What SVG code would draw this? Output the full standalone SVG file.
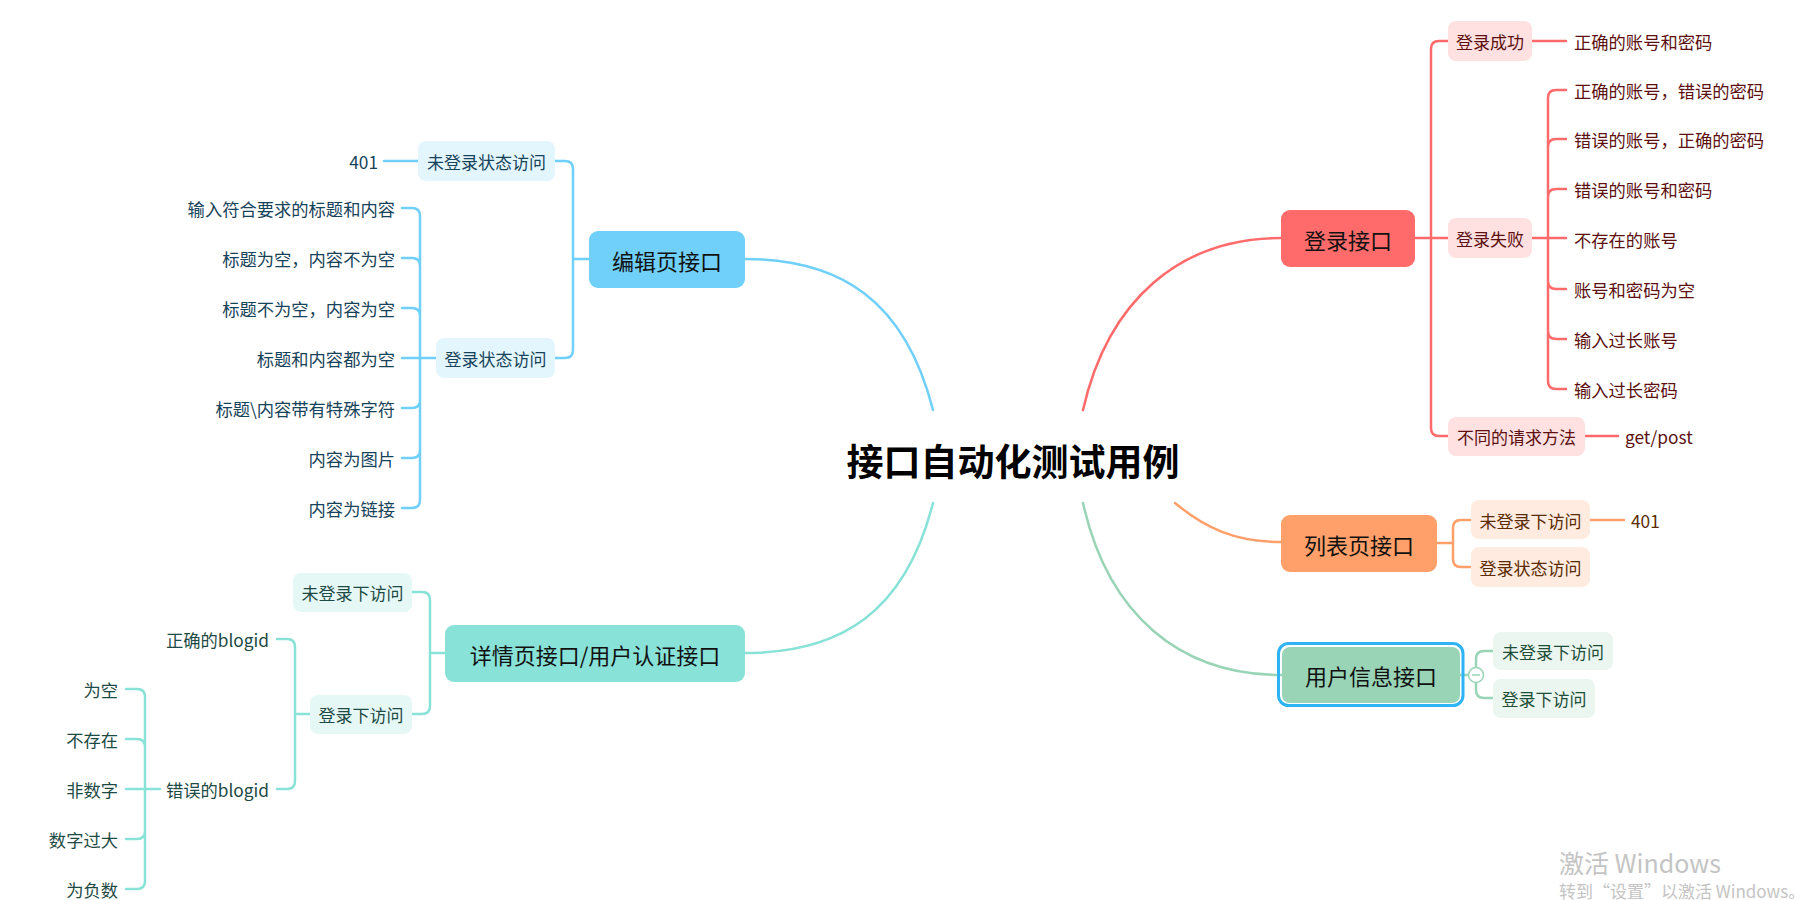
<svg xmlns="http://www.w3.org/2000/svg" width="1816" height="900" viewBox="0 0 1816 900">
<style>
text{font-family:"Noto Sans CJK SC","Noto Sans",sans-serif;dominant-baseline:central}
.main{font-size:22px;fill:#111;text-anchor:middle}
.sub{font-size:17px;text-anchor:middle}
.leaf{font-size:17.3px}
.end{text-anchor:end}
.c{fill:none;stroke-width:2.5;stroke-linecap:round}
.red{stroke:#FF6B6B}.org{stroke:#FF9F69}.grn{stroke:#99D4B7}.blu{stroke:#70D0F9}.teal{stroke:#88E2D7}
.tr{fill:#5C1010}.to{fill:#5A2A00}.tg{fill:#1E4D38}.tb{fill:#17435A}.tt{fill:#1D4A44}
</style>
<rect width="1816" height="900" fill="#fff"/>
<g id="connectors">
<path class="c blu" d="M933,410 C905,300 840,259 745,259"/>
<path class="c teal" d="M933,503 C905,613 840,653 745,653"/>
<path class="c red" d="M1083,410 C1108,300 1180,238 1281,238"/>
<path class="c org" d="M1175,503 C1205,528 1235,542 1281,542"/>
<path class="c grn" d="M1083,503 C1108,615 1180,675 1281,675"/>
<path class="c red" d="M1415,238 H1448 M1448,41 H1439 Q1431,41 1431,49 V428 Q1431,436 1439,436 H1448"/>
<path class="c red" d="M1532,41 H1566 M1532,238 H1566 M1585,436 H1618"/>
<path class="c red" d="M1548,238 V98 Q1548,90 1556,90 H1566 M1548,147 Q1548,139 1556,139 H1566 M1548,197 Q1548,189 1556,189 H1566 M1548,238 V381 Q1548,389 1556,389 H1566 M1548,281 Q1548,289 1556,289 H1566 M1548,331 Q1548,339 1556,339 H1566"/>
<path class="c org" d="M1437,543 H1453 M1453,543 V528 Q1453,520 1461,520 H1471 M1453,543 V559 Q1453,567 1461,567 H1471 M1590,520 H1624"/>
<path class="c grn" d="M1460,675 H1469 M1476,667 V659 Q1476,651 1484,651 H1493 M1476,683 V690 Q1476,698 1484,698 H1493"/>
<path class="c blu" d="M589,259 H573 M573,259 V169 Q573,161 565,161 H555 M573,259 V350 Q573,358 565,358 H555 M418,161 H384 M436,358 H402"/>
<path class="c blu" d="M420,358 V216 Q420,208 412,208 H402 M420,266 Q420,258 412,258 H402 M420,316 Q420,308 412,308 H402 M420,358 V500 Q420,508 412,508 H402 M420,400 Q420,408 412,408 H402 M420,450 Q420,458 412,458 H402"/>
<path class="c teal" d="M445,653 H430 M430,653 V600 Q430,592 422,592 H412 M430,653 V706 Q430,714 422,714 H412"/>
<path class="c teal" d="M310,714 H295 M295,714 V647 Q295,639 287,639 H277 M295,714 V781 Q295,789 287,789 H277"/>
<path class="c teal" d="M160,789 H126 M145,789 V697 Q145,689 137,689 H126 M145,747 Q145,739 137,739 H126 M145,789 V881 Q145,889 137,889 H126 M145,831 Q145,839 137,839 H126"/>
</g>
<g id="root"><text x="1013" y="460" style="font-size:37px;font-weight:bold;text-anchor:middle;fill:#000">接口自动化测试用例</text></g>
<g id="n-login"><rect x="1281" y="210" width="134" height="57" rx="9" fill="#FF6B6B"/><text class="main" x="1348" y="238.5">登录接口</text></g>
<g id="n-login-ok"><rect x="1448" y="21" width="84" height="40" rx="8" fill="#FFE1E1"/><text class="sub tr" x="1490" y="41">登录成功</text></g>
<g id="n-login-fail"><rect x="1448" y="218" width="84" height="40" rx="8" fill="#FFE1E1"/><text class="sub tr" x="1490" y="238">登录失败</text></g>
<g id="n-login-method"><rect x="1448" y="417" width="137" height="39" rx="8" fill="#FFE1E1"/><text class="sub tr" x="1516.5" y="436">不同的请求方法</text></g>
<g id="n-login-leaves" class="leaf tr">
<text x="1574" y="41">正确的账号和密码</text>
<text x="1574" y="90">正确的账号，错误的密码</text>
<text x="1574" y="139">错误的账号，正确的密码</text>
<text x="1574" y="189">错误的账号和密码</text>
<text x="1574" y="239">不存在的账号</text>
<text x="1574" y="289">账号和密码为空</text>
<text x="1574" y="339">输入过长账号</text>
<text x="1574" y="389">输入过长密码</text>
<text x="1625" y="436">get/post</text>
</g>
<g id="n-list"><rect x="1281" y="515" width="156" height="57" rx="9" fill="#FF9F69"/><text class="main" x="1359" y="543.5">列表页接口</text></g>
<g id="n-list-1"><rect x="1471" y="500" width="119" height="39" rx="8" fill="#FFEBDF"/><text class="sub to" x="1530.5" y="520">未登录下访问</text></g>
<g id="n-list-2"><rect x="1471" y="547" width="119" height="40" rx="8" fill="#FFEBDF"/><text class="sub to" x="1530.5" y="567">登录状态访问</text></g>
<g id="n-list-401"><text class="leaf to" x="1631" y="520">401</text></g>
<g id="n-user"><rect x="1278.5" y="643.5" width="184.5" height="62" rx="10" fill="none" stroke="#2EB4F5" stroke-width="3"/><rect x="1282" y="647" width="178" height="56" rx="8" fill="#99D4B7"/><text class="main" x="1371" y="675">用户信息接口</text>
<circle cx="1476" cy="675" r="7.5" fill="#fff" stroke="#99D4B7" stroke-width="1.5"/><path d="M1472,675 H1480" stroke="#99D4B7" stroke-width="1.5"/></g>
<g id="n-user-1"><rect x="1493" y="632" width="120" height="38" rx="8" fill="#EAF6EF"/><text class="sub tg" x="1553" y="651">未登录下访问</text></g>
<g id="n-user-2"><rect x="1493" y="679" width="102" height="39" rx="8" fill="#EAF6EF"/><text class="sub tg" x="1544" y="698">登录下访问</text></g>
<g id="n-edit"><rect x="589" y="231" width="156" height="57" rx="9" fill="#70D0F9"/><text class="main" x="667" y="259.5">编辑页接口</text></g>
<g id="n-edit-1"><rect x="418" y="141" width="137" height="40" rx="8" fill="#E3F6FE"/><text class="sub tb" x="486.5" y="161">未登录状态访问</text></g>
<g id="n-edit-2"><rect x="436" y="338" width="119" height="40" rx="8" fill="#E3F6FE"/><text class="sub tb" x="495.5" y="358">登录状态访问</text></g>
<g id="n-edit-leaves" class="leaf tb end">
<text x="378" y="161">401</text>
<text x="395" y="208">输入符合要求的标题和内容</text>
<text x="395" y="258">标题为空，内容不为空</text>
<text x="395" y="308">标题不为空，内容为空</text>
<text x="395" y="358">标题和内容都为空</text>
<text x="395" y="408">标题\内容带有特殊字符</text>
<text x="395" y="458">内容为图片</text>
<text x="395" y="508">内容为链接</text>
</g>
<g id="n-detail"><rect x="445" y="625" width="300" height="57" rx="9" fill="#88E2D7"/><text class="main" x="595" y="653.5">详情页接口/用户认证接口</text></g>
<g id="n-detail-1"><rect x="293" y="573" width="119" height="39" rx="8" fill="#E6F8F5"/><text class="sub tt" x="352.5" y="592.5">未登录下访问</text></g>
<g id="n-detail-2"><rect x="310" y="695" width="102" height="39" rx="8" fill="#E6F8F5"/><text class="sub tt" x="361" y="714.5">登录下访问</text></g>
<g id="n-detail-leaves" class="leaf tt end">
<text x="269" y="639">正确的blogid</text>
<text x="269" y="789">错误的blogid</text>
<text x="118" y="689">为空</text>
<text x="118" y="739">不存在</text>
<text x="118" y="789">非数字</text>
<text x="118" y="839">数字过大</text>
<text x="118" y="889">为负数</text>
</g>
<g id="watermark" fill="#c4c4c4">
<text x="1559" y="862" style="font-size:25px">激活 Windows</text>
<text x="1559" y="890" style="font-size:17px">转到“设置”以激活 Windows。</text>
</g>
</svg>
